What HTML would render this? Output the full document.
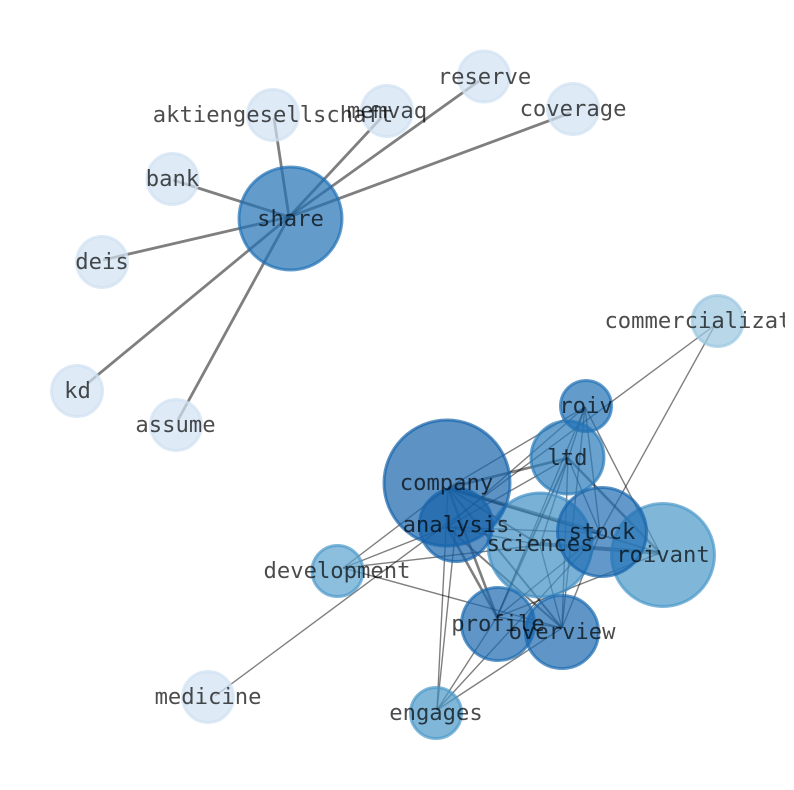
<!DOCTYPE html>
<html><head><meta charset="utf-8"><style>
html,body{margin:0;padding:0;background:#fff}
svg{display:block}
text{font-family:"DejaVu Sans Mono",monospace;font-size:22.2px;fill:#000;fill-opacity:.7;text-anchor:middle}
.n circle{fill-opacity:.7;stroke-opacity:.7;stroke-width:3}
.e line{stroke:#000;stroke-opacity:.5}
</style></head><body>
<svg xmlns="http://www.w3.org/2000/svg" width="794" height="790" viewBox="0 0 794 790">
<defs><clipPath id="c"><rect x="0" y="0" width="785" height="790"/></clipPath></defs>
<g clip-path="url(#c)">
<g class="e" stroke-width="2.8">
<line x1="289" y1="217" x2="274" y2="118"/>
<line x1="289" y1="217" x2="382" y2="117"/>
<line x1="289" y1="217" x2="479" y2="81"/>
<line x1="289" y1="217" x2="570" y2="113"/>
<line x1="289" y1="217" x2="173" y2="180"/>
<line x1="289" y1="217" x2="103" y2="260"/>
<line x1="289" y1="217" x2="88" y2="383"/>
<line x1="289" y1="217" x2="178" y2="420"/>
</g>
<g class="e" stroke-width="1.4">
<line x1="215" y1="696" x2="715" y2="325"/>
<line x1="343" y1="568" x2="448" y2="488"/>
<line x1="343" y1="568" x2="447" y2="527"/>
<line x1="343" y1="568" x2="540" y2="545"/>
<line x1="343" y1="568" x2="562" y2="628"/>
<line x1="715" y1="325" x2="600" y2="533"/>
<line x1="448" y1="488" x2="585" y2="407"/>
<line x1="447" y1="527" x2="585" y2="407"/>
<line x1="448" y1="488" x2="437" y2="710"/>
<line x1="456" y1="525" x2="437" y2="710"/>
<line x1="585" y1="407" x2="660" y2="553"/>
<line x1="585" y1="407" x2="600" y2="533"/>
<line x1="568" y1="458" x2="600" y2="533"/>
<line x1="447" y1="527" x2="600" y2="533"/>
<line x1="660" y1="553" x2="497" y2="617"/>
<line x1="600" y1="533" x2="562" y2="628"/>
<line x1="600" y1="533" x2="497" y2="617"/>
<line x1="600" y1="533" x2="437" y2="710"/>
<line x1="562" y1="628" x2="437" y2="710"/>
<line x1="497" y1="617" x2="437" y2="710"/>
<line x1="497" y1="617" x2="562" y2="628"/>
<line x1="585" y1="407" x2="562" y2="628"/>
<line x1="568" y1="458" x2="562" y2="628"/>
<line x1="540" y1="545" x2="562" y2="628"/>
<line x1="585" y1="407" x2="540" y2="545"/>
<line x1="585" y1="407" x2="497" y2="617"/>
<line x1="447" y1="527" x2="568" y2="458"/>
<line x1="447" y1="527" x2="540" y2="545"/>
</g>
<g class="e" stroke-width="2">
<line x1="568" y1="458" x2="497" y2="617"/>
<line x1="448" y1="488" x2="562" y2="628"/>
<line x1="447" y1="527" x2="562" y2="628"/>
<line x1="540" y1="545" x2="448" y2="488"/>
<line x1="448" y1="488" x2="660" y2="553"/>
</g>
<g class="e" stroke-width="2.6">
<line x1="448" y1="488" x2="497" y2="617"/>
<line x1="447" y1="527" x2="497" y2="617"/>
<line x1="448" y1="488" x2="568" y2="458"/>
<line x1="568" y1="458" x2="660" y2="553"/>
</g>
<g class="e" stroke-width="4">
<line x1="448" y1="488" x2="600" y2="533"/>
<line x1="540" y1="544" x2="660" y2="553"/>
</g>
<g class="n">
<circle cx="290.5" cy="218.5" r="51.5" fill="#2171b5" stroke="#2171b5"/>
<circle cx="273" cy="115" r="25.5" fill="#d0e1f2" stroke="#d0e1f2"/>
<circle cx="387" cy="111" r="25.5" fill="#d0e1f2" stroke="#d0e1f2"/>
<circle cx="484" cy="76.5" r="25.5" fill="#d0e1f2" stroke="#d0e1f2"/>
<circle cx="573" cy="109" r="25.5" fill="#d0e1f2" stroke="#d0e1f2"/>
<circle cx="172.5" cy="179" r="25.5" fill="#d0e1f2" stroke="#d0e1f2"/>
<circle cx="102" cy="262" r="25.5" fill="#d0e1f2" stroke="#d0e1f2"/>
<circle cx="77" cy="391" r="25.5" fill="#d0e1f2" stroke="#d0e1f2"/>
<circle cx="176" cy="425" r="25.5" fill="#d0e1f2" stroke="#d0e1f2"/>
<circle cx="208" cy="697" r="25.5" fill="#d0e1f2" stroke="#d0e1f2"/>
<circle cx="717.7" cy="321" r="25.5" fill="#9ac8e0" stroke="#9ac8e0"/>
<circle cx="337.5" cy="571" r="25.5" fill="#5ba3d0" stroke="#4a98c9"/>
<circle cx="436" cy="713" r="25.5" fill="#4a98c9" stroke="#4a98c9"/>
<circle cx="663" cy="555" r="51.5" fill="#4a98c9" stroke="#4a98c9"/>
<circle cx="540" cy="545" r="52" fill="#3f8fc5" stroke="#3f8fc5"/>
<circle cx="567.5" cy="457.5" r="36.5" fill="#2a7ab9" stroke="#2a7ab9"/>
<circle cx="586" cy="406" r="25.5" fill="#2171b5" stroke="#2171b5"/>
<circle cx="602" cy="532" r="44.5" fill="#1f6eb3" stroke="#1764ab"/>
<circle cx="447" cy="483" r="63" fill="#1764ab" stroke="#1764ab"/>
<circle cx="456" cy="525" r="36.5" fill="#1764ab" stroke="#1764ab"/>
<circle cx="498" cy="624" r="36.5" fill="#1b69af" stroke="#1b69af"/>
<circle cx="562" cy="632" r="36.5" fill="#1b69af" stroke="#1b69af"/>
</g>
<g>
<text x="273" y="122">aktiengesellschaft</text>
<text x="387" y="118">memvaq</text>
<text x="484.5" y="84">reserve</text>
<text x="573" y="116">coverage</text>
<text x="172.5" y="186">bank</text>
<text x="102" y="269">deis</text>
<text x="77.5" y="398">kd</text>
<text x="175.5" y="432">assume</text>
<text x="290.5" y="226">share</text>
<text x="718" y="328">commercialization</text>
<text x="586" y="413">roiv</text>
<text x="567.5" y="465">ltd</text>
<text x="446.5" y="490">company</text>
<text x="456" y="532">analysis</text>
<text x="540" y="551">sciences</text>
<text x="602" y="539">stock</text>
<text x="663" y="562">roivant</text>
<text x="337" y="578">development</text>
<text x="498" y="631">profile</text>
<text x="562" y="639">overview</text>
<text x="436" y="720">engages</text>
<text x="208" y="704">medicine</text>
</g>
</g>
</svg>
</body></html>
